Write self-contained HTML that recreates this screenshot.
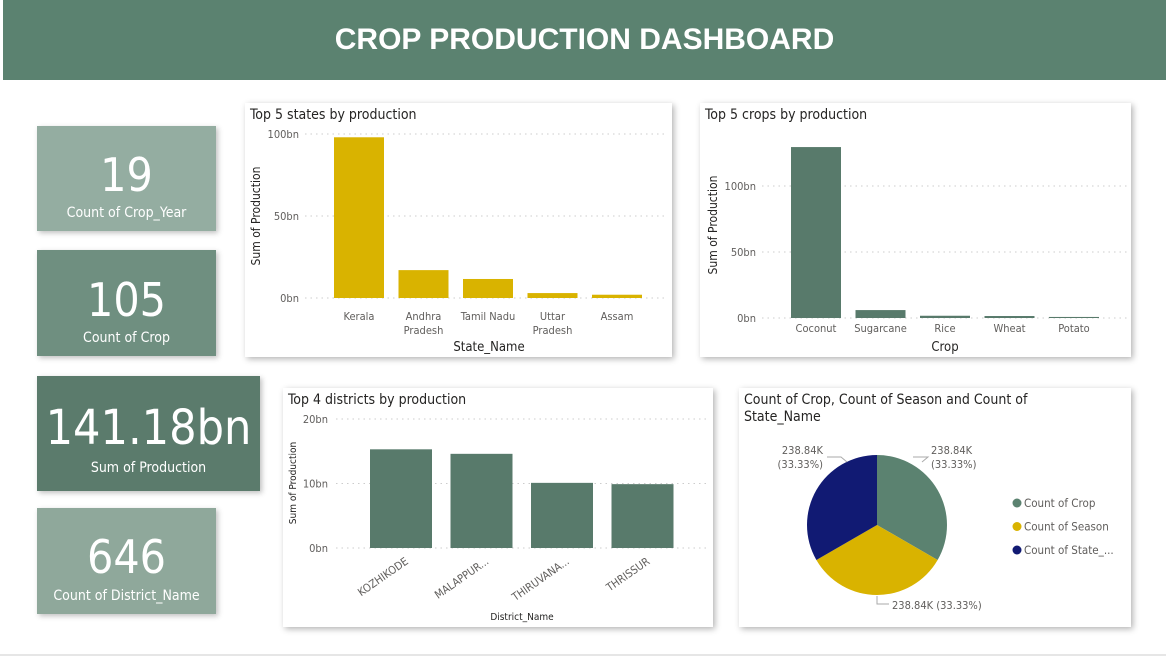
<!DOCTYPE html>
<html><head><meta charset="utf-8"><style>
body{margin:0;width:1166px;height:657px;background:#fff;position:relative;overflow:hidden;font-family:"DejaVu Sans Condensed","Liberation Sans",sans-serif;}
.hdr{position:absolute;left:3px;top:0;width:1163px;height:80px;background:#5b8270;color:#fff;font-weight:bold;font-size:30px;text-align:center;line-height:80px;font-family:"Liberation Sans",sans-serif;}
.kpi{position:absolute;color:#fff;text-align:center;box-shadow:2px 2px 5px rgba(0,0,0,.25);}
.kpi .v{position:absolute;left:0;right:0;font-size:46px;}
.kpi .l{position:absolute;left:0;right:0;font-size:14px;}
.card{position:absolute;background:#fff;box-shadow:2px 2px 6px rgba(0,0,0,.3);}
svg{position:absolute;left:0;top:0;}
.bot{position:absolute;left:0;top:654px;width:1166px;height:2px;background:#e6e6e6;}
</style></head><body>
<div class="hdr">CROP PRODUCTION DASHBOARD</div>
<div class="kpi" style="left:37px;top:126px;width:179px;height:105px;background:#94ada1"><div class="v" style="top:22px">19</div><div class="l" style="top:79px">Count of Crop_Year</div></div>
<div class="kpi" style="left:37px;top:250px;width:179px;height:106px;background:#6f8f80"><div class="v" style="top:23px">105</div><div class="l" style="top:80px">Count of Crop</div></div>
<div class="kpi" style="left:37px;top:376px;width:223px;height:115px;background:#5b7b6c"><div class="v" style="top:24px;font-size:48px">141.18bn</div><div class="l" style="top:84px">Sum of Production</div></div>
<div class="kpi" style="left:37px;top:508px;width:179px;height:106px;background:#8fa89b"><div class="v" style="top:22px">646</div><div class="l" style="top:80px">Count of District_Name</div></div>
<div class="card" style="left:245px;top:103px;width:427px;height:254px"></div>
<div class="card" style="left:700px;top:103px;width:431px;height:254px"></div>
<div class="card" style="left:283px;top:388px;width:430px;height:239px"></div>
<div class="card" style="left:739px;top:388px;width:392px;height:239px"></div>
<div class="bot"></div>
<svg id="s" width="1166" height="657" font-family="DejaVu Sans Condensed, Liberation Sans, sans-serif"></svg>
<script>
const states=["Kerala","Andhra|Pradesh","Tamil Nadu","Uttar|Pradesh","Assam"];
const stateVals=[98,17,11.6,3,2];
const stateTicks=[0,50,100];
const crops=["Coconut","Sugarcane","Rice","Wheat","Potato"];
const cropVals=[129.5,6,1.7,1.5,0.8];
const cropTicks=[0,50,100];
const districts=["KOZHIKODE","MALAPPUR...","THIRUVANA...","THRISSUR"];
const districtVals=[15.3,14.6,10.1,9.9];
const districtTicks=[0,10,20];
const pieLabels=["Count of Crop","Count of Season","Count of State_..."];
const pieVals=[238.84,238.84,238.84];

const S=document.getElementById('s');const NS="http://www.w3.org/2000/svg";
function mk(t,a,txt){const e=document.createElementNS(NS,t);for(const k in a)e.setAttribute(k,a[k]);if(txt!==undefined)e.textContent=txt;S.appendChild(e);return e;}
function chart(o){
  const y=v=>o.y0-(v/o.max)*(o.y0-o.yTop);
  let t=mk('text',{x:o.tx,y:o.ty,'font-size':14,fill:'#252423'},o.title);
  
  o.ticks.forEach(v=>{
    let g=mk('line',{x1:o.gx1,x2:o.gx2,y1:y(v),y2:y(v),stroke:'#ccc','stroke-dasharray':'1.5,4'});
    
    let l=mk('text',{x:o.lx,y:y(v)+4,'font-size':o.tfs,fill:'#605e5c','text-anchor':'end'},v+'bn');
    
  });
  o.cats.forEach((c,i)=>{
    const x=o.bx+i*o.step;
    let r=mk('rect',{x:x,y:y(o.vals[i]),width:o.bw,height:o.y0-y(o.vals[i]),fill:o.color});
    
    const cx=x+o.bw/2;
    if(o.rot){
      let l=mk('text',{x:cx+8,y:o.y0+15,'font-size':11,fill:'#605e5c','text-anchor':'end',transform:`rotate(-35 ${cx+8} ${o.y0+15})`},c);
      
    } else c.split('|').forEach((p,j)=>{
      let l=mk('text',{x:cx,y:o.y0+o.lo+j*14,'font-size':11,fill:'#605e5c','text-anchor':'middle'},p);
      
    });
  });
  let xt=mk('text',{x:o.xtx,y:o.xty,'font-size':o.xfs,fill:'#252423','text-anchor':'middle'},o.xtitle);
  
  let yt=mk('text',{x:o.ytx,y:o.yty,'font-size':o.yfs,fill:'#252423','text-anchor':'middle',transform:`rotate(-90 ${o.ytx} ${o.yty})`},'Sum of Production');
  
}
chart({name:'states',title:'Top 5 states by production',tx:250,ty:119,cats:states,vals:stateVals,ticks:stateTicks,max:100,y0:298,yTop:134,gx1:305,gx2:668,lx:299,tfs:11,bx:334,step:64.5,bw:50,lo:22,color:'#d9b300',xtitle:'State_Name',xtx:489,xty:351,xfs:13,ytx:260,yty:216,yfs:12});
chart({name:'crops',title:'Top 5 crops by production',tx:705,ty:119,cats:crops,vals:cropVals,ticks:cropTicks,max:100,y0:318,yTop:186,gx1:762,gx2:1128,lx:756,tfs:11,bx:791,step:64.5,bw:50,lo:14,color:'#587a6b',xtitle:'Crop',xtx:945,xty:351,xfs:13,ytx:717,yty:225,yfs:12});
chart({name:'districts',title:'Top 4 districts by production',tx:288,ty:404,cats:districts,vals:districtVals,ticks:districtTicks,max:20,y0:548,yTop:419,gx1:336,gx2:708,lx:328,tfs:11,bx:370,step:80.5,bw:62,color:'#587a6b',rot:true,xtitle:'District_Name',xtx:522,xty:620,xfs:10,ytx:296,yty:483,yfs:10});

let pt=mk('text',{x:744,y:404,'font-size':14,fill:'#252423'},'Count of Crop, Count of Season and Count of');

let pt2=mk('text',{x:744,y:421,'font-size':14,fill:'#252423'},'State_Name');

const pcx=877,pcy=525,pr=70,pcol=['#5b8270','#d9b300','#111a73'];
const tot=pieVals.reduce((a,b)=>a+b,0);let a0=-Math.PI/2;
pieVals.forEach((v,i)=>{
  const a1=a0+v/tot*2*Math.PI;
  const p=mk('path',{d:`M${pcx},${pcy} L${pcx+pr*Math.cos(a0)},${pcy+pr*Math.sin(a0)} A${pr},${pr} 0 ${a1-a0>Math.PI?1:0} 1 ${pcx+pr*Math.cos(a1)},${pcy+pr*Math.sin(a1)} Z`,fill:pcol[i]});
  
  a0=a1;
  const ly=503+i*23.5;
  let c=mk('circle',{cx:1017,cy:ly,r:4.5,fill:pcol[i]});
  
  let lt=mk('text',{x:1024,y:ly+4,'font-size':11.5,fill:'#605e5c'},pieLabels[i]);
  
});
const pct=(pieVals[0]/tot*100).toFixed(2);
function lbl(x,y,s,anc){let t=mk('text',{x:x,y:y,'font-size':11,fill:'#605e5c','text-anchor':anc},s);}
lbl(931,454,pieVals[0]+'K','start');lbl(931,468,'('+pct+'%)','start');
lbl(823,454,pieVals[2]+'K','end');lbl(823,468,'('+pct+'%)','end');
lbl(892,609,pieVals[1]+'K ('+pct+'%)','start');
mk('polyline',{points:'913,457 928,457 922,462',fill:'none',stroke:'#aaa'});
mk('polyline',{points:'827,457 841,457 847,462',fill:'none',stroke:'#aaa'});
mk('polyline',{points:'877,596 877,604 889,604',fill:'none',stroke:'#aaa'});
</script>
</body></html>
